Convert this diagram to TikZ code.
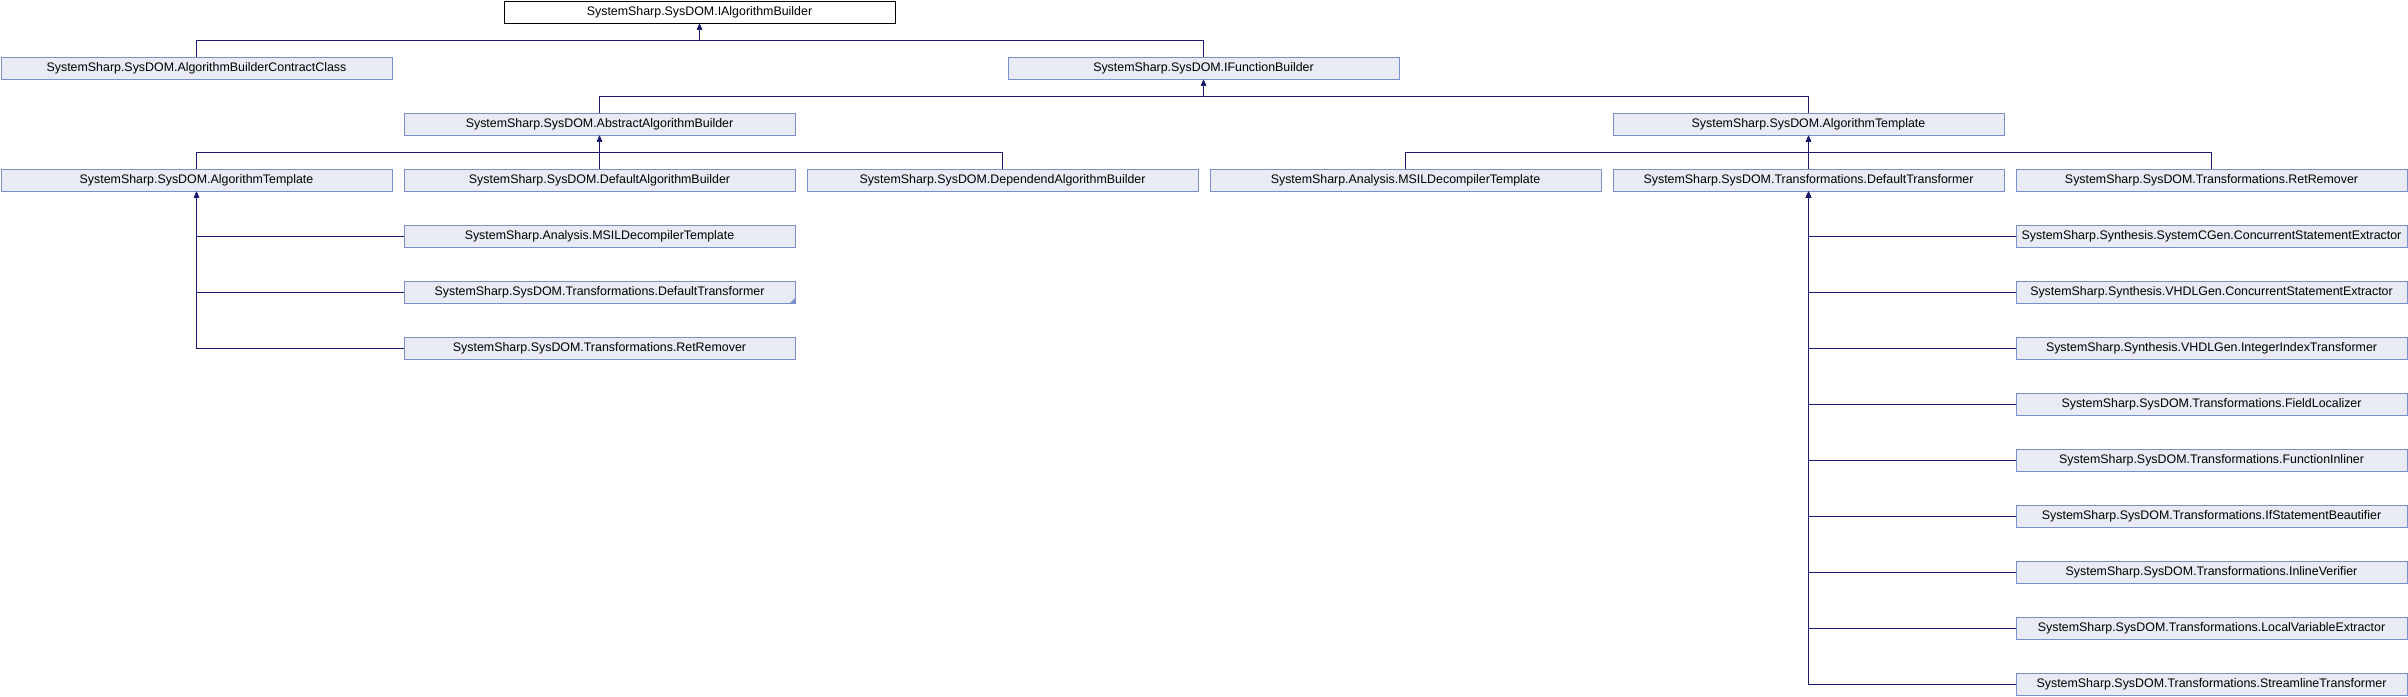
\documentclass[tikz,border=0pt]{standalone}
\usepackage{fontspec}
\setmainfont{Liberation Sans}
\usetikzlibrary{arrows.meta}
\definecolor{boxfill}{HTML}{E8EBF4}
\definecolor{boxline}{HTML}{7B8FCC}
\definecolor{edgecol}{HTML}{191970}
\tikzset{
  cls/.style={draw=boxline, fill=boxfill, line width=1pt, rectangle, anchor=north west,
    minimum width=391pt, minimum height=22pt, inner sep=0pt,
    font=\fontsize{12.4}{14}\selectfont},
  topcls/.style={cls, draw=black, fill=white},
  edge/.style={draw=edgecol, line width=1pt, {Triangle[length=6pt,width=5pt]}-},
}
\begin{document}
\begin{tikzpicture}[x=1pt,y=1pt]
\useasboundingbox (0,0) rectangle (2408,-696);
% row 0
\node[topcls] (n0) at (503.5,-0.5) {SystemSharp.SysDOM.IAlgorithmBuilder};
% row 1
\node[cls] (a1) at (0.5,-56.5) {SystemSharp.SysDOM.AlgorithmBuilderContractClass};
\node[cls] (b1) at (1007.5,-56.5) {SystemSharp.SysDOM.IFunctionBuilder};
% row 2
\node[cls] (c2) at (403.5,-112.5) {SystemSharp.SysDOM.AbstractAlgorithmBuilder};
\node[cls] (d2) at (1612.5,-112.5) {SystemSharp.SysDOM.AlgorithmTemplate};
% row 3
\node[cls] (e3) at (0.5,-168.5) {SystemSharp.SysDOM.AlgorithmTemplate};
\node[cls] (f3) at (403.5,-168.5) {SystemSharp.SysDOM.DefaultAlgorithmBuilder};
\node[cls] (g3) at (806.5,-168.5) {SystemSharp.SysDOM.DependendAlgorithmBuilder};
\node[cls] (h3) at (1209.5,-168.5) {SystemSharp.Analysis.MSILDecompilerTemplate};
\node[cls] (i3) at (1612.5,-168.5) {SystemSharp.SysDOM.Transformations.DefaultTransformer};
\node[cls] (j3) at (2015.5,-168.5) {SystemSharp.SysDOM.Transformations.RetRemover};
% left children
\node[cls] (l4) at (403.5,-224.5) {SystemSharp.Analysis.MSILDecompilerTemplate};
\node[cls] (l5) at (403.5,-280.5) {SystemSharp.SysDOM.Transformations.DefaultTransformer};
\node[cls] (l6) at (403.5,-336.5) {SystemSharp.SysDOM.Transformations.RetRemover};
\fill[boxline] (l5.south east) -- ++(-6,0) -- ++(6,6) -- cycle;
% right children
\node[cls] (r4) at (2015.5,-224.5) {SystemSharp.Synthesis.SystemCGen.ConcurrentStatementExtractor};
\node[cls] (r5) at (2015.5,-280.5) {SystemSharp.Synthesis.VHDLGen.ConcurrentStatementExtractor};
\node[cls] (r6) at (2015.5,-336.5) {SystemSharp.Synthesis.VHDLGen.IntegerIndexTransformer};
\node[cls] (r7) at (2015.5,-392.5) {SystemSharp.SysDOM.Transformations.FieldLocalizer};
\node[cls] (r8) at (2015.5,-448.5) {SystemSharp.SysDOM.Transformations.FunctionInliner};
\node[cls] (r9) at (2015.5,-504.5) {SystemSharp.SysDOM.Transformations.IfStatementBeautifier};
\node[cls] (r10) at (2015.5,-560.5) {SystemSharp.SysDOM.Transformations.InlineVerifier};
\node[cls] (r11) at (2015.5,-616.5) {SystemSharp.SysDOM.Transformations.LocalVariableExtractor};
\node[cls] (r12) at (2015.5,-672.5) {SystemSharp.SysDOM.Transformations.StreamlineTransformer};
% bus edges
\foreach \c/\p in {a1/n0,b1/n0,c2/b1,d2/b1,e3/c2,f3/c2,g3/c2,h3/d2,i3/d2,j3/d2}
  \draw[edge] (\p.south) -- ++(0,-16.5) -| (\c.north);
% list edges
\foreach \c in {l4,l5,l6}
  \draw[edge] (e3.south) |- (\c.west);
\foreach \c in {r4,r5,r6,r7,r8,r9,r10,r11,r12}
  \draw[edge] (i3.south) |- (\c.west);
\end{tikzpicture}
\end{document}
